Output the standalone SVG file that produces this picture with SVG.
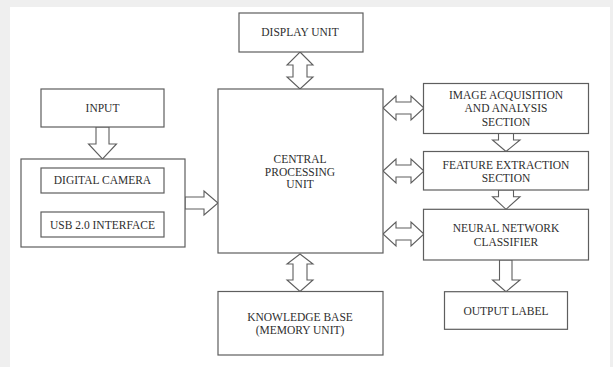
<svg xmlns="http://www.w3.org/2000/svg" width="613" height="367" viewBox="0 0 613 367">
<style>
.box{fill:#fff;stroke:#5e5e5e;stroke-width:1.2}
.arr{fill:#fff;stroke:#5e5e5e;stroke-width:1.1;stroke-linejoin:miter}
text{font-family:"Liberation Serif","Times New Roman",serif;font-size:11.5px;fill:#2e2e2e;text-anchor:middle}
</style>
<rect x="0" y="0" width="613" height="367" fill="#efefef"/>
<rect x="10" y="7" width="600" height="360" fill="#ffffff"/>
<g id="connectors">
<polygon class="arr" points="300,52 313,65 307,65 307,77 313,77 300,89 287,77 293,77 293,65 287,65"/>
<polygon class="arr" points="300,254 313,264 307,264 307,280 313,280 300,291.5 287,280 293,280 293,264 287,264"/>
<polygon class="arr" points="383,108 396,96 396,102 411,102 411,96 424,108 411,120 411,114 396,114 396,120"/>
<polygon class="arr" points="383,171 396,159 396,165 411,165 411,159 424,171 411,183 411,177 396,177 396,183"/>
<polygon class="arr" points="383,234 396,222 396,228 411,228 411,222 424,234 411,246 411,240 396,240 396,246"/>
<polygon class="arr" points="96,127 109,127 109,144 116.5,144 102.5,159 88.5,144 96,144"/>
<polygon class="arr" points="97,193 110,193 110,198.5 116.5,198.5 103,211.5 89.5,198.5 97,198.5"/>
<polygon class="arr" points="185,197 204,197 204,191 218,203 204,215 204,209 185,209"/>
<polygon class="arr" points="498.5,133.5 513.5,133.5 513.5,140 520,140 506,151.5 492.5,140 498.5,140"/>
<polygon class="arr" points="498.5,190 513.5,190 513.5,196.7 520,196.7 506,209.3 492.5,196.7 498.5,196.7"/>
<polygon class="arr" points="499.5,260 512,260 512,280 520,280 506,291.7 492.5,280 499.5,280"/>
</g>
<g id="display">
<rect class="box" x="239" y="13" width="124" height="39"/>
<text x="300" y="36">DISPLAY UNIT</text>
</g>
<g id="input">
<rect class="box" x="41" y="89" width="123" height="38"/>
<text x="102.5" y="112">INPUT</text>
</g>
<g id="camera-group">
<rect class="box" x="21" y="159" width="164" height="88"/>
</g>
<g id="digital-camera">
<rect class="box" x="41" y="168" width="123" height="25"/>
<text x="102.5" y="184">DIGITAL CAMERA</text>
</g>
<g id="usb">
<rect class="box" x="41" y="212" width="123" height="25"/>
<text x="102.5" y="228.5">USB 2.0 INTERFACE</text>
</g>
<g id="cpu">
<rect class="box" x="218" y="89" width="165" height="164"/>
<text x="300" y="163">CENTRAL</text>
<text x="300" y="175.5">PROCESSING</text>
<text x="300" y="188">UNIT</text>
</g>
<g id="image-acquisition">
<rect class="box" x="423.5" y="83.5" width="165" height="50"/>
<text x="506" y="99">IMAGE ACQUISITION</text>
<text x="506" y="112.3">AND ANALYSIS</text>
<text x="506" y="125.7">SECTION</text>
</g>
<g id="feature-extraction">
<rect class="box" x="423.5" y="151.5" width="165" height="38.5"/>
<text x="506" y="169">FEATURE EXTRACTION</text>
<text x="506" y="181.7">SECTION</text>
</g>
<g id="neural-network">
<rect class="box" x="423.5" y="209.3" width="165" height="50.7"/>
<text x="506" y="232.3">NEURAL NETWORK</text>
<text x="506" y="245.7">CLASSIFIER</text>
</g>
<g id="output-label">
<rect class="box" x="444.5" y="291.7" width="123" height="37.6"/>
<text x="506" y="314.7">OUTPUT LABEL</text>
</g>
<g id="knowledge-base">
<rect class="box" x="218" y="291.5" width="165" height="63.5"/>
<text x="300" y="321.3">KNOWLEDGE BASE</text>
<text x="300" y="334">(MEMORY UNIT)</text>
</g>
</svg>
